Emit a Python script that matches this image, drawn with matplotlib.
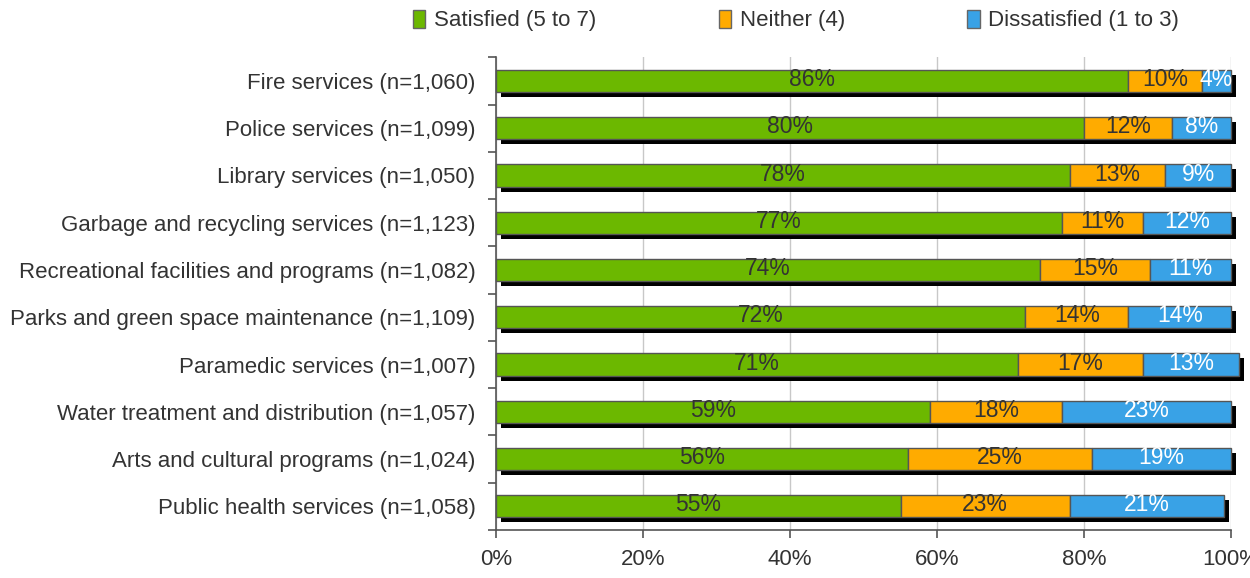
import matplotlib.pyplot as plt
import matplotlib.transforms as mtransforms
from matplotlib.patches import Patch
import numpy as np

plt.rcParams['font.family'] = ['Liberation Sans', 'DejaVu Sans']

services = ['Fire services (n=1,060)',
            'Police services (n=1,099)',
            'Library services (n=1,050)',
            'Garbage and recycling services (n=1,123)',
            'Recreational facilities and programs (n=1,082)',
            'Parks and green space maintenance (n=1,109)',
            'Paramedic services (n=1,007)',
            'Water treatment and distribution (n=1,057)',
            'Arts and cultural programs (n=1,024)',
            'Public health services (n=1,058)']
satisfied = [86, 80, 78, 77, 74, 72, 71, 59, 56, 55]
neither = [10, 12, 13, 11, 15, 14, 17, 18, 25, 23]
dissatisfied = [4, 8, 9, 12, 11, 14, 13, 23, 19, 21]

series = [('Satisfied (5 to 7)', satisfied, '#6cb800', '#333333'),
          ('Neither (4)', neither, '#ffab00', '#333333'),
          ('Dissatisfied (1 to 3)', dissatisfied, '#39a2e6', 'white')]

fig = plt.figure(figsize=(12.5, 5.78), dpi=100)
ax = fig.add_axes([0.397, 0.083, 0.588, 0.818])

y = np.arange(len(services))
height = 0.47

# drop shadow behind each full bar
totals = np.array(satisfied) + np.array(neither) + np.array(dissatisfied)
shadow = mtransforms.offset_copy(ax.transData, fig=fig, x=5, y=-5, units='dots')
shadow_bars = ax.barh(y, totals, height=height, color='black', transform=shadow, zorder=2)
for b in shadow_bars:
    b.set_clip_on(False)

left = np.zeros(len(services))
for name, vals, color, tcolor in series:
    vals = np.array(vals)
    bars = ax.barh(y, vals, height=height, left=left, color=color,
                   edgecolor='#555555', linewidth=1, zorder=3)
    for b in bars:
        b.set_clip_on(False)
    for yi, l, v in zip(y, left, vals):
        ax.text(l + v / 2, yi - 0.03, f'{v}%', ha='center', va='center',
                fontsize=16.5, color=tcolor, zorder=4)
    left += vals

ax.set_xlim(0, 100)
ax.set_ylim(len(services) - 0.5, -0.5)
ax.set_xticks(np.arange(0, 101, 20))
ax.set_xticklabels([f'{t}%' for t in range(0, 101, 20)])
ax.set_yticks(y)
ax.set_yticklabels(services)
ax.set_yticks(np.arange(-0.5, len(services), 1), minor=True)

ax.tick_params(axis='y', which='major', length=0, pad=15, labelsize=16, labelcolor='#333333')
ax.tick_params(axis='y', which='minor', length=6, color='#555555', width=1.2)
ax.tick_params(axis='x', length=6, color='#555555', width=1.2, pad=8,
               labelsize=16, labelcolor='#333333')

ax.grid(axis='x', color='#c8c8c8', linewidth=1, zorder=0)
ax.set_axisbelow(True)
for side in ['top', 'right']:
    ax.spines[side].set_visible(False)
for side in ['left', 'bottom']:
    ax.spines[side].set_color('#555555')
    ax.spines[side].set_linewidth(1.2)

handles = [Patch(facecolor=c, edgecolor='#666666', label=n) for n, _, c, _ in series]
fig.legend(handles=handles, loc='upper center', bbox_to_anchor=(0.637, 1.018),
           ncol=3, frameon=False, fontsize=16, handlelength=0.55, handleheight=0.9,
           handletextpad=0.4, columnspacing=5.5, labelcolor='#333333')

fig.savefig('out.png', dpi=100)
